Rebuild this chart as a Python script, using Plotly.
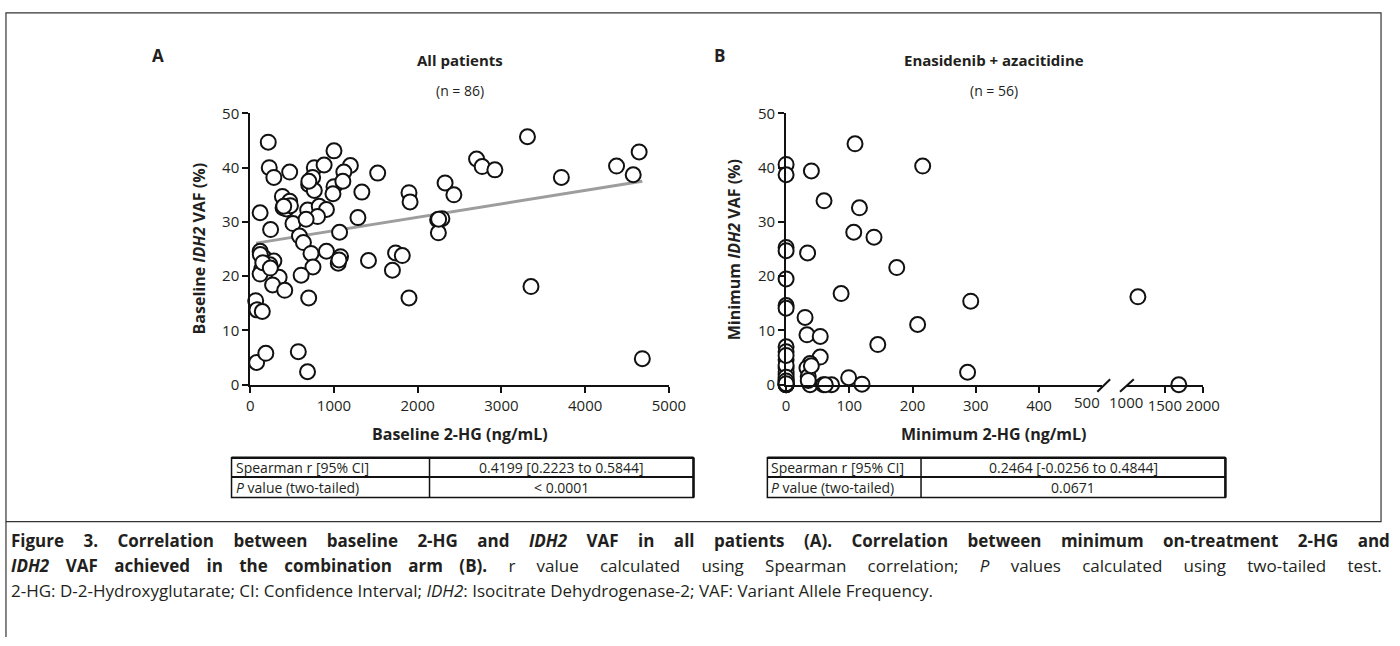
import plotly.graph_objects as go

W, H = 1400, 646

# ---------------- Data ----------------
# Panel A: baseline 2-HG (ng/mL) vs baseline IDH2 VAF (%)
a_x = [215, 1000, 227, 282, 471, 765, 882, 1196, 1118, 1522, 745, 698, 765, 1000, 1106,
       988, 1333, 384, 471, 392, 431, 686, 824, 910, 118, 804, 510, 667, 1286, 243,
       588, 635, 1067, 118, 726, 910, 1078, 1051, 1412, 165, 282, 235, 137, 118, 345,
       749, 608, 267, 412, 65, 698,
       1896, 1909, 2238, 2289, 2247, 2327, 2432, 2703, 2770, 2922, 3311, 3716, 4375, 4574,
       4645, 1698, 1736, 1816, 1896, 3353, 4683,
       80, 144, 76, 186, 574, 684,
       120, 150, 240, 700, 480, 1060, 2250, 400]
a_y = [44.7, 43.1, 40.0, 38.2, 39.2, 40.0, 40.5, 40.4, 39.2, 39.0, 38.2, 36.9, 35.8, 36.5, 37.5,
       35.2, 35.5, 34.7, 33.8, 32.6, 32.4, 32.2, 32.9, 32.3, 31.7, 31.0, 29.7, 30.5, 30.8, 28.6,
       27.4, 26.2, 28.1, 24.6, 24.2, 24.6, 23.6, 22.4, 22.9, 23.4, 22.8, 22.1, 21.3, 20.4, 19.8,
       21.7, 20.2, 18.4, 17.4, 15.5, 16.0,
       35.4, 33.7, 30.4, 30.6, 28.0, 37.2, 35.0, 41.6, 40.2, 39.6, 45.7, 38.2, 40.3, 38.7,
       42.9, 21.1, 24.3, 23.8, 16.0, 18.1, 4.8,
       13.8, 13.5, 4.1, 5.8, 6.1, 2.4,
       24.0, 22.5, 21.5, 37.5, 33.0, 23.0, 30.5, 32.9]
# fitted line
fit_x = [70, 4683]
fit_y = [26.1, 37.5]

# Panel B: minimum 2-HG (ng/mL) vs minimum IDH2 VAF (%)
b_x = [0, 0, 40, 60, 109, 216, 116, 107, 139, 0, 0, 34, 175, 0, 87, 0, 0, 292, 30, 208,
       33, 54, 145, 0, 0, 0, 0, 0, 0, 0, 54, 38, 33, 35, 38, 59, 72, 99, 120, 287, 1145, 1684,
       0, 0, 0, 0, 0, 0, 0, 0, 0, 35, 40, 0, 62, 0]
b_y = [40.6, 38.7, 39.4, 33.9, 44.4, 40.3, 32.6, 28.1, 27.2, 25.3, 24.7, 24.3, 21.6, 19.5, 16.8,
       14.6, 14.1, 15.4, 12.4, 11.1, 9.2, 8.9, 7.4, 7.0, 6.1, 4.6, 3.1, 1.9, 1.0, 0.1, 5.1, 3.9,
       3.1, 1.5, 0, 0, 0, 1.3, 0.1, 2.3, 16.2, 0,
       0, 0, 0.3, 0.5, 2.4, 3.6, 5.4, 0, 1.4, 0.8, 3.5, 0.7, 0, 0.2]

a_xticks = [0, 1000, 2000, 3000, 4000, 5000]
b_xticks_low = [0, 100, 200, 300, 400]
b_xticks_high = [1500, 2000]
y_ticks = [0, 10, 20, 30, 40, 50]

table_a = [["Spearman r [95% CI]", "0.4199 [0.2223 to 0.5844]"],
           ["<i>P</i> value (two-tailed)", "< 0.0001"]]
table_b = [["Spearman r [95% CI]", "0.2464 [-0.0256 to 0.4844]"],
           ["<i>P</i> value (two-tailed)", "0.0671"]]

# ---------------- Helpers ----------------
def px(x):
    return x / W


def py(y):
    return 1 - y / H

TXT = "#231f20"
FONT = "Open Sans"

fig = go.Figure()

marker = dict(symbol="circle", size=15, color="white", line=dict(color="#111111", width=2))

fig.add_trace(go.Scatter(x=fit_x, y=fit_y, mode="lines", line=dict(color="#9d9d9d", width=3),
                         xaxis="x", yaxis="y", showlegend=False, hoverinfo="skip"))
fig.add_trace(go.Scatter(x=a_x, y=a_y, mode="markers", marker=marker, cliponaxis=False,
                         xaxis="x", yaxis="y", showlegend=False))

bl_x = [x for x in b_x if x <= 500]
bl_y = [y for x, y in zip(b_x, b_y) if x <= 500]
bh_x = [x for x in b_x if x >= 1000]
bh_y = [y for x, y in zip(b_x, b_y) if x >= 1000]
fig.add_trace(go.Scatter(x=bl_x, y=bl_y, mode="markers", marker=marker, cliponaxis=False,
                         xaxis="x2", yaxis="y2", showlegend=False))
fig.add_trace(go.Scatter(x=bh_x, y=bh_y, mode="markers", marker=marker, cliponaxis=False,
                         xaxis="x3", yaxis="y3", showlegend=False))

ydom = [py(385.7), py(105.7)]
axis_common = dict(showline=True, linecolor="#111111", linewidth=2, ticks="outside",
                   ticklen=6, tickwidth=2, tickcolor="#111111", showgrid=False, zeroline=False,
                   tickfont=dict(family=FONT, size=15, color=TXT), fixedrange=True)

fig.update_layout(
    width=W, height=H, margin=dict(l=0, r=0, t=0, b=0),
    paper_bgcolor="white", plot_bgcolor="white",
    xaxis=dict(domain=[px(250), px(675)], range=[0, 5000], tickvals=a_xticks, anchor="y",
               **axis_common),
    yaxis=dict(domain=ydom, range=[0, 50], tickvals=y_ticks, anchor="x", **axis_common),
    xaxis2=dict(domain=[px(794), px(1115)], range=[0, 500], tickvals=b_xticks_low, anchor="y2",
                **axis_common),
    yaxis2=dict(domain=ydom, range=[0, 50], tickvals=y_ticks, anchor="x2", **axis_common),
    xaxis3=dict(domain=[px(1140), px(1217)], range=[1000, 2000], tickvals=b_xticks_high,
                anchor="y3", **axis_common),
    yaxis3=dict(domain=ydom, range=[0, 50], anchor="x3", visible=False, fixedrange=True),
)

ann = []


def text(x, y, t, size=14, bold=False, anchor="center", angle=0, yanchor="middle", color=TXT):
    ann.append(dict(x=px(x), y=py(y), xref="paper", yref="paper", text=("<b>%s</b>" % t) if bold else t,
                    showarrow=False, xanchor=anchor, yanchor=yanchor, textangle=angle,
                    font=dict(family=FONT, size=size, color=color)))

# Panel letters and titles
text(156, 46, "A", size=17, bold=True)
text(726, 46, "B", size=17, bold=True)
text(463, 51, "All patients", size=15, bold=True)
text(463, 82, "(n = 86)", size=14)
text(1005, 51, "Enasidenib + azacitidine", size=15, bold=True)
text(1005, 82, "(n = 56)", size=14)

# Axis titles
text(198, 246, "Baseline <i>IDH2</i> VAF (%)", size=16, bold=True, angle=-90)
text(741, 246, "Minimum <i>IDH2</i> VAF (%)", size=16, bold=True, angle=-90)
text(463, 437, "Baseline 2-HG (ng/mL)", size=16, bold=True)
text(1005, 437, "Minimum 2-HG (ng/mL)", size=16, bold=True)

# Tick labels around axis break (labels shifted beside the break marks)
text(1099, 404, "500", size=15)
text(1139, 404, "1000", size=15)

shapes = []


def line(x0, y0, x1, y1, w=1, color="#111111"):
    shapes.append(dict(type="line", xref="paper", yref="paper", x0=px(x0), y0=py(y0),
                       x1=px(x1), y1=py(y1), line=dict(color=color, width=w)))

# axis break slashes
line(1110, 393, 1123, 380, w=2)
line(1133, 393, 1147, 380, w=2)


def table(left, right, split, top, mid, bottom, rows):
    shapes.append(dict(type="rect", xref="paper", yref="paper", x0=px(left), x1=px(right),
                       y0=py(bottom), y1=py(top), line=dict(color="#111111", width=1.5)))
    line(left, mid, right, mid, w=2)
    line(split, top, split, bottom, w=1.5)
    line(left, top, right, top, w=2.5)
    line(right, top, right, bottom, w=2.5)
    for i, (c1, c2) in enumerate(rows):
        yc = (top + mid) / 2 if i == 0 else (mid + bottom) / 2
        ann.append(dict(x=px(left + 2), y=py(yc), xref="paper", yref="paper", text=c1,
                        showarrow=False, xanchor="left", yanchor="middle",
                        font=dict(family=FONT, size=14, color=TXT)))
        ann.append(dict(x=px((split + right) / 2), y=py(yc), xref="paper", yref="paper", text=c2,
                        showarrow=False, xanchor="center", yanchor="middle",
                        font=dict(family=FONT, size=14, color=TXT)))

table(231, 700, 432, 461, 481, 502, table_a)
table(775, 1240, 931, 461, 481, 502, table_b)

# figure border
shapes.append(dict(type="rect", xref="paper", yref="paper", x0=px(2), x1=px(1398), y0=py(527),
                   y1=py(2), line=dict(color="#333333", width=1.2)))
line(2, 527, 2, 646, w=1.2, color="#333333")

# caption (first two lines justified via word spacing)
cap1 = ('<span style="word-spacing:15px"><b>Figure 3. Correlation between baseline 2-HG and '
        '<i>IDH2</i> VAF in all patients (A). Correlation between minimum on-treatment 2-HG and'
        '</b></span>')
cap2 = ('<b><span style="word-spacing:12px"><i>IDH2</i> VAF achieved in the combination arm (B).'
        '</span></b><span style="word-spacing:16.8px"> r value calculated using Spearman '
        'correlation; <i>P</i> values calculated using two-tailed test.</span>')
cap3 = ("2-HG: D-2-Hydroxyglutarate; CI: Confidence Interval; <i>IDH2</i>: Isocitrate "
        "Dehydrogenase-2; VAF: Variant Allele Frequency.")
for t, yy in [(cap1, 546), (cap2, 572), (cap3, 598)]:
    ann.append(dict(x=px(5), y=py(yy), xref="paper", yref="paper", text=t, showarrow=False,
                    xanchor="left", yanchor="middle", font=dict(family=FONT, size=17, color=TXT)))

fig.update_layout(annotations=ann, shapes=shapes)
fig.write_html("out.html", config={"displayModeBar": False})
